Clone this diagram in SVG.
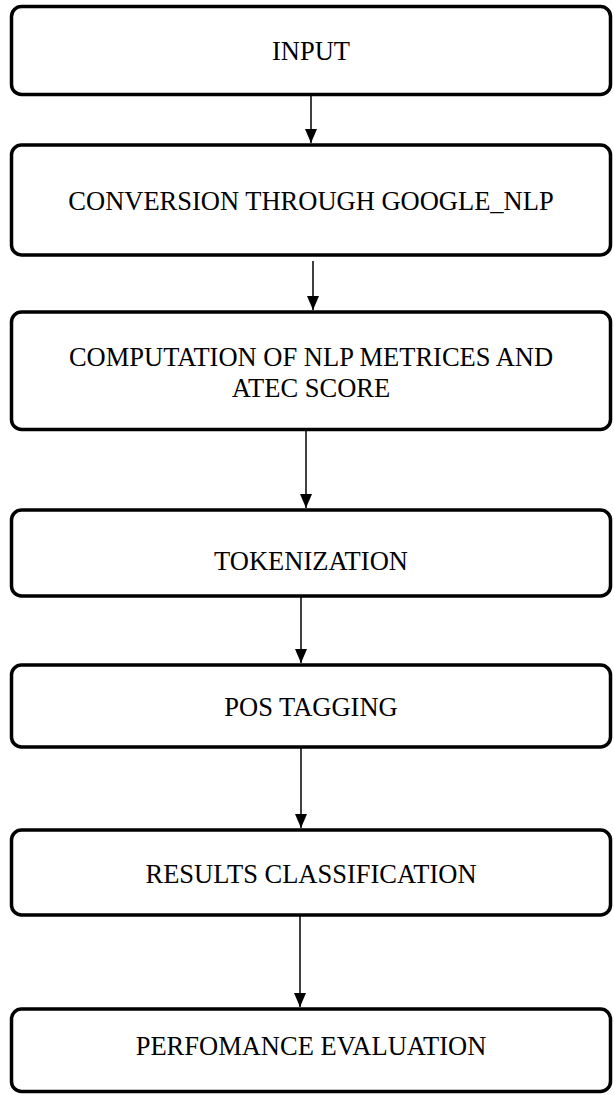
<svg xmlns="http://www.w3.org/2000/svg" width="614" height="1095" viewBox="0 0 614 1095">
  <style>
    .box { fill: #ffffff; stroke: #000000; stroke-width: 3.5; }
    .lbl { font-family: "Liberation Serif", "Times New Roman", serif; font-size: 26.5px; fill: #000000; text-anchor: middle; }
    .wire { stroke: #000000; stroke-width: 1.5; fill: none; }
  </style>
  <defs>
    <marker id="head" viewBox="0 0 14 12" refX="14" refY="6" markerWidth="14" markerHeight="12" markerUnits="userSpaceOnUse" orient="auto">
      <path d="M0,0 L14,6 L0,12 Z" fill="#000000"/>
    </marker>
  </defs>
  <rect width="614" height="1095" fill="#ffffff"/>

  <g id="connectors">
    <line class="wire" x1="311" y1="95" x2="311" y2="143" marker-end="url(#head)"/>
    <line class="wire" x1="313" y1="261" x2="313" y2="310" marker-end="url(#head)"/>
    <line class="wire" x1="306" y1="430" x2="306" y2="508" marker-end="url(#head)"/>
    <line class="wire" x1="301" y1="597" x2="301" y2="663" marker-end="url(#head)"/>
    <line class="wire" x1="301" y1="748" x2="301" y2="828" marker-end="url(#head)"/>
    <line class="wire" x1="300" y1="916" x2="300" y2="1007" marker-end="url(#head)"/>
  </g>

  <g id="input">
    <rect class="box" x="11.5" y="6.5" width="599" height="88" rx="10"/>
    <text class="lbl" x="311" y="60">INPUT</text>
  </g>

  <g id="conversion">
    <rect class="box" x="11.5" y="145" width="599" height="110" rx="10"/>
    <text class="lbl" x="311" y="210">CONVERSION THROUGH GOOGLE_NLP</text>
  </g>

  <g id="computation">
    <rect class="box" x="11.5" y="312" width="599" height="117.5" rx="10"/>
    <text class="lbl" x="311" y="366">COMPUTATION OF NLP METRICES AND</text>
    <text class="lbl" x="311" y="397">ATEC SCORE</text>
  </g>

  <g id="tokenization">
    <rect class="box" x="11.5" y="510" width="599" height="86" rx="10"/>
    <text class="lbl" x="311" y="570">TOKENIZATION</text>
  </g>

  <g id="pos-tagging">
    <rect class="box" x="11.5" y="665" width="599" height="82" rx="10"/>
    <text class="lbl" x="311" y="716">POS TAGGING</text>
  </g>

  <g id="results">
    <rect class="box" x="11.5" y="830" width="599" height="85" rx="10"/>
    <text class="lbl" x="311" y="883">RESULTS CLASSIFICATION</text>
  </g>

  <g id="performance">
    <rect class="box" x="11.5" y="1009" width="599" height="82.5" rx="10"/>
    <text class="lbl" x="311" y="1055">PERFOMANCE EVALUATION</text>
  </g>
</svg>
